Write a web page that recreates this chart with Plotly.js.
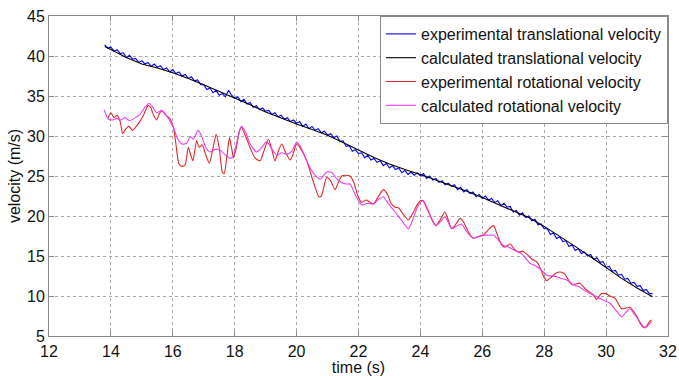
<!DOCTYPE html>
<html>
<head>
<meta charset="utf-8">
<script src="https://cdn.plot.ly/plotly-3.0.1.min.js"></script>
<style>html,body{margin:0;padding:0;background:#fff;}#chart{width:679px;height:376px;}</style>
</head>
<body>
<div id="chart"></div>
<script>
// ---- data ----
const seriesNames = [
  "experimental translational velocity",
  "calculated translational velocity",
  "experimental rotational velocity",
  "calculated rotational velocity"
];

const expTransT = [13.8,13.9,14.0,14.1,14.2,14.3,14.4,14.5,14.6,14.7,14.8,14.9,15.0,15.1,15.2,15.3,15.4,15.5,15.6,15.7,15.8,15.9,
16.0,16.1,16.2,16.3,16.4,16.5,16.6,16.7,16.8,16.9,17.0,17.1,17.2,17.3,17.4,17.5,17.6,17.7,17.8,17.9,
18.0,18.1,18.2,18.3,18.4,18.5,18.6,18.7,18.8,18.9,19.0,19.1,19.2,19.3,19.4,19.5,19.6,19.7,19.8,19.9,
20.0,20.1,20.2,20.3,20.4,20.5,20.6,20.7,20.8,20.9,21.0,21.1,21.2,21.3,21.4,21.5,21.6,21.7,21.8,21.9,
22.0,22.1,22.2,22.3,22.4,22.5,22.6,22.7,22.8,22.9,23.0,23.1,23.2,23.3,23.4,23.5,23.6,23.7,23.8,23.9,
24.0,24.1,24.2,24.3,24.4,24.5,24.6,24.7,24.8,24.9,25.0,25.1,25.2,25.3,25.4,25.5,25.6,25.7,25.8,25.9,
26.0,26.1,26.2,26.3,26.4,26.5,26.6,26.7,26.8,26.9,27.0,27.1,27.2,27.3,27.4,27.5,27.6,27.7,27.8,27.9,
28.0,28.1,28.2,28.3,28.4,28.5,28.6,28.7,28.8,28.9,29.0,29.1,29.2,29.3,29.4,29.5,29.6,29.7,29.8,29.9,
30.0,30.1,30.2,30.3,30.4,30.5,30.6,30.7,30.8,30.9,31.0,31.1,31.2,31.3,31.4,31.5];
const expTransV = [41.4,41.0,41.1,40.6,40.8,40.3,40.4,39.8,40.1,39.6,39.7,39.2,39.4,39.0,39.2,38.7,39.0,38.6,38.8,38.3,38.5,38.0,
38.3,37.8,38.0,37.5,37.7,37.2,37.4,36.9,37.0,36.4,36.4,35.8,36.0,35.4,35.7,35.1,35.3,34.9,35.7,35.1,
34.7,34.9,34.3,34.6,34.0,34.2,33.6,33.8,33.3,33.5,33.1,33.2,32.7,32.9,32.4,32.6,32.1,32.3,31.8,32.0,
31.6,31.8,31.2,31.5,30.9,31.2,30.7,30.9,30.4,30.6,30.1,30.3,29.8,30.0,29.3,29.4,28.7,28.8,28.1,28.3,
27.8,27.9,27.3,27.6,27.0,27.2,26.7,26.9,26.3,26.6,26.0,26.3,25.8,26.0,25.4,25.7,25.2,25.5,25.1,25.4,
25.0,25.3,24.7,25.0,24.5,24.7,24.2,24.4,23.9,24.1,23.7,23.9,23.3,23.6,23.0,23.3,22.8,23.0,22.4,22.7,
22.2,22.5,22.0,22.2,21.7,21.9,21.3,21.6,21.1,21.2,20.5,20.7,20.1,20.4,19.8,20.0,19.4,19.6,18.9,19.0,
18.4,18.4,17.7,17.9,17.2,17.4,16.8,16.9,16.2,16.4,15.7,15.9,15.3,15.5,15.0,15.2,14.6,14.8,14.2,14.3,
13.6,13.7,13.1,13.2,12.6,12.7,12.1,12.2,11.6,11.7,11.2,11.3,10.7,10.8,10.3,10.3];

const calcTransT = [13.8,14.0,14.5,15.0,15.5,16.0,16.5,17.0,17.5,18.0,18.5,19.0,19.5,20.0,20.5,21.0,21.5,22.0,22.5,23.0,
23.5,24.0,24.5,25.0,25.5,26.0,26.5,27.0,27.5,28.0,28.5,29.0,29.5,30.0,30.5,31.0,31.3,31.5];
const calcTransV = [41.2,40.8,39.8,39.0,38.5,37.9,37.2,36.4,35.6,34.8,33.9,33.0,32.2,31.5,30.8,30.1,29.2,28.2,27.3,26.5,
25.8,25.2,24.5,23.8,23.1,22.3,21.5,20.7,19.8,18.7,17.5,16.2,14.9,13.5,12.2,11.0,10.3,9.9];

const expRotT = [13.90,14.00,14.10,14.20,14.30,14.38,14.48,14.58,14.70,14.80,14.92,15.05,15.20,15.28,15.38,15.48,15.58,15.66,15.78,15.92,
16.02,16.10,16.20,16.30,16.40,16.50,16.58,16.65,16.77,16.85,16.95,17.05,17.18,17.30,17.40,17.50,17.60,17.66,17.75,17.83,
17.90,17.96,18.05,18.15,18.22,18.35,18.49,18.65,18.82,18.95,19.09,19.20,19.30,19.40,19.52,19.65,19.79,19.90,20.00,20.15,
20.33,20.48,20.60,20.72,20.80,20.97,21.10,21.24,21.35,21.46,21.60,21.72,21.85,21.98,22.10,22.25,22.35,22.48,22.62,22.80,
22.95,23.05,23.18,23.30,23.45,23.61,23.75,23.88,24.00,24.09,24.20,24.31,24.40,24.50,24.65,24.79,24.90,25.01,25.15,25.28,
25.40,25.55,25.71,25.85,26.03,26.20,26.36,26.50,26.62,26.73,26.90,27.05,27.16,27.30,27.45,27.60,27.75,27.86,28.00,28.08,
28.24,28.40,28.52,28.65,28.80,28.90,29.02,29.15,29.30,29.42,29.55,29.69,29.85,30.00,30.12,30.29,30.40,30.50,30.65,30.77,
30.90,31.00,31.10,31.20,31.30,31.40,31.47];
const expRotV = [32.2,32.9,32.3,32.6,31.8,30.3,30.9,31.2,30.7,31.1,31.7,32.6,33.8,33.6,32.6,32.0,32.9,33.1,32.6,32.1,
31.1,29.0,26.5,26.2,26.4,28.6,27.6,26.9,29.4,28.6,28.9,27.8,26.6,28.5,30.2,28.5,25.5,25.3,27.5,29.8,
28.5,27.3,28.5,30.6,31.1,30.0,28.6,27.3,26.9,28.2,29.6,28.3,26.9,28.0,29.0,27.9,27.0,27.9,29.0,28.3,
26.9,25.0,23.6,22.4,22.5,24.8,24.4,23.3,24.2,25.0,25.1,25.0,24.2,22.5,21.7,22.0,21.8,21.5,22.3,23.3,
22.6,21.6,21.1,21.0,20.2,19.5,20.3,21.3,21.9,21.9,21.0,20.1,19.3,18.8,19.6,20.5,19.5,18.4,19.0,19.7,
19.2,18.0,17.2,17.4,17.6,18.3,18.8,17.5,16.4,16.1,16.5,15.8,15.5,15.6,15.2,14.6,14.3,13.6,12.3,11.9,
12.4,12.9,13.0,12.8,11.9,11.4,11.5,11.6,11.0,10.6,10.3,9.6,10.3,10.3,10.0,9.7,9.0,8.4,8.5,8.6,
8.0,7.4,6.6,6.1,6.2,6.8,7.0];

const calcRotT = [13.78,13.92,14.05,14.20,14.32,14.45,14.60,14.75,14.94,15.10,15.24,15.35,15.48,15.64,15.80,15.92,16.05,16.15,16.30,16.45,
16.56,16.66,16.82,16.95,17.05,17.20,17.35,17.50,17.65,17.85,17.96,18.10,18.22,18.35,18.50,18.71,18.88,19.03,19.20,19.36,
19.52,19.68,19.85,20.00,20.15,20.30,20.43,20.60,20.76,20.97,21.15,21.30,21.45,21.60,21.73,21.90,22.10,22.30,22.48,22.65,
22.80,22.95,23.18,23.40,23.61,23.75,23.88,24.00,24.09,24.20,24.35,24.50,24.65,24.79,24.90,25.01,25.15,25.33,25.50,25.71,
25.85,26.03,26.20,26.36,26.52,26.68,26.82,26.95,27.10,27.27,27.40,27.54,27.70,27.86,28.08,28.25,28.40,28.55,28.73,28.90,
29.15,29.30,29.48,29.65,29.80,29.95,30.13,30.30,30.50,30.65,30.77,30.90,31.05,31.25,31.35,31.47];
const calcRotV = [33.3,32.1,32.0,32.2,32.0,32.3,31.9,32.2,32.7,33.6,34.1,33.6,32.9,33.2,32.5,31.8,30.8,29.7,29.0,29.1,
29.9,29.6,30.7,29.8,28.7,28.0,28.3,28.3,27.8,27.2,27.5,29.8,31.2,30.5,29.0,28.0,28.6,29.3,28.4,27.6,
27.9,27.7,28.1,29.2,28.5,27.1,26.1,25.1,24.6,25.5,25.4,24.6,24.2,24.0,24.0,22.6,21.4,21.6,21.5,22.1,
22.4,21.6,20.5,19.4,18.4,19.5,20.9,21.7,21.9,21.2,19.8,18.8,19.3,19.9,19.2,18.4,18.7,19.0,18.0,17.2,
17.4,17.6,17.6,17.6,17.0,16.3,16.2,15.9,15.6,15.3,14.7,14.1,13.8,13.4,12.6,12.5,12.4,12.2,12.0,11.5,
11.1,10.7,10.3,10.0,9.7,9.4,9.1,8.3,7.4,8.0,8.4,7.8,7.0,6.0,6.3,6.8];

const xTickVals = [12,14,16,18,20,22,24,26,28,30,32];
const yTickVals = [5,10,15,20,25,30,35,40,45];
const xTitle = "time (s)";
const yTitle = "velocity (m/s)";

// ---- drawing ----
const colors = ["#0000ff", "#000000", "#e02828", "#ee3cee"];
const xs = [expTransT, calcTransT, expRotT, calcRotT];
const ys = [expTransV, calcTransV, expRotV, calcRotV];
const traces = seriesNames.map((n, i) => ({
  x: xs[i], y: ys[i], name: n, type: "scatter", mode: "lines",
  line: {color: colors[i], width: 1.1, shape: i >= 2 ? "spline" : "linear", smoothing: 0.6}
}));

const font = {family: "Liberation Sans, Arial, sans-serif", size: 16, color: "#111"};
const axisCommon = {
  showline: true, linecolor: "#8a8a8a", linewidth: 1, mirror: "ticks",
  ticks: "inside", ticklen: 5, tickcolor: "#8a8a8a",
  showgrid: true, gridcolor: "#a8a8a8", griddash: "dot", gridwidth: 1,
  zeroline: false, tickfont: font, automargin: false
};

const layout = {
  width: 679, height: 376,
  margin: {l: 49, r: 11, t: 16, b: 40},
  paper_bgcolor: "#fff", plot_bgcolor: "#fff",
  font: font,
  showlegend: true,
  legend: {
    x: 1, y: 1, xanchor: "right", yanchor: "top",
    bgcolor: "#fff", bordercolor: "#8a8a8a", borderwidth: 1,
    font: font, itemwidth: 30, tracegroupgap: 0
  },
  xaxis: Object.assign({}, axisCommon, {
    range: [12, 32], tickmode: "array", tickvals: xTickVals,
    ticktext: xTickVals.map(String), ticklabelstandoff: 1,
    title: {text: xTitle, font: font, standoff: 0}
  }),
  yaxis: Object.assign({}, axisCommon, {
    range: [5, 45], tickmode: "array", tickvals: yTickVals,
    ticktext: yTickVals.map(String),
    title: {text: yTitle, font: font, standoff: 2}
  })
};

Plotly.newPlot("chart", traces, layout, {displayModeBar: false, staticPlot: true});
</script>
</body>
</html>
